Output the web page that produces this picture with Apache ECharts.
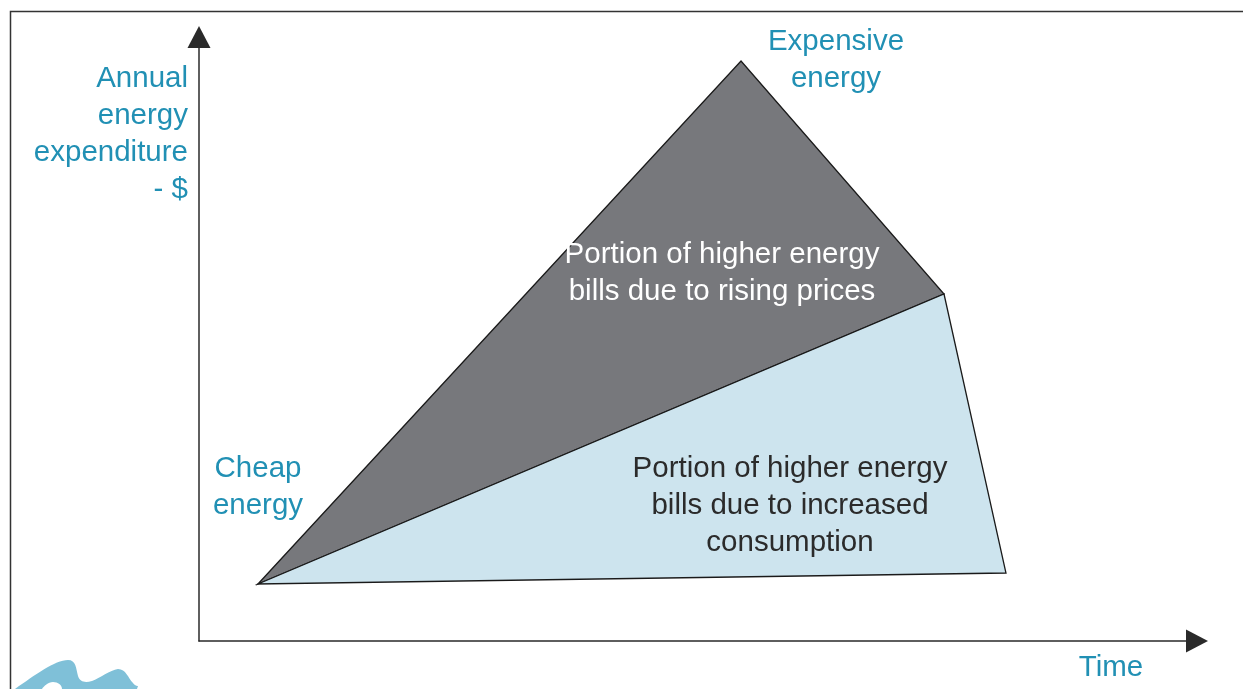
<!DOCTYPE html>
<html>
<head>
<meta charset="utf-8">
<script src="https://cdn.jsdelivr.net/npm/echarts@6/dist/echarts.min.js"></script>
<style>
html,body{margin:0;padding:0;background:#fff;}
#chart{width:1243px;height:689px;}
</style>
</head>
<body>
<div id="chart"></div>
<script>
// Data (axis units 0..100, time vs annual expenditure)
const priceRegionX = [5.91, 54.31, 74.65];
const priceRegionY = [9.44, 96.03, 57.45];
const consumptionRegionX = [5.91, 74.65, 80.86];
const consumptionRegionY = [9.44, 57.45, 11.26];

const yAxisTitle = ['Annual', 'energy', 'expenditure', '- $'];
const xAxisTitle = 'Time';
const topLabel = ['Expensive', 'energy'];
const startLabel = ['Cheap', 'energy'];
const priceLabel = ['Portion of higher energy', 'bills due to rising prices'];
const consumptionLabel = ['Portion of higher energy', 'bills due to increased', 'consumption'];

const TEAL = '#2190b4';
const FONT = '"Liberation Sans", Arial, sans-serif';

function polygonSeries(xs, ys, fill) {
  return {
    type: 'custom',
    coordinateSystem: 'cartesian2d',
    data: xs.map((x, i) => [x, ys[i]]),
    silent: true,
    renderItem: function (params, api) {
      if (params.dataIndex !== 0) return null;
      const pts = xs.map((x, i) => api.coord([x, ys[i]]));
      return {
        type: 'polygon',
        shape: { points: pts },
        style: { fill: fill, stroke: '#1a1a1a', lineWidth: 1.3, lineJoin: 'miter' }
      };
    }
  };
}

const waveSvg = '<svg xmlns="http://www.w3.org/2000/svg" width="130" height="30" viewBox="10 660 130 30">' +
  '<path fill="#7fc0d8" d="M15,689 C35,675 55,660 68,660 C76,660 76,668 78,676 C80,682 85,683 92,681 C100,678 110,670 118,669 C126,669 128,678 133,683 C135,686 138,686 138,686 L137,689 L62,689 C62,685 58,682 53,682 C48,682 44,686 42,689 Z"/></svg>';

const chart = echarts.init(document.getElementById('chart'), null, { renderer: 'canvas' });
const axisLine = {
  show: true,
  symbol: ['none', 'triangle'],
  symbolSize: [23, 22],
  lineStyle: { color: '#2a2a2a', width: 1.5 }
};
function txt(lines, x, y, align, color) {
  return { type: 'text', x: x, y: y, silent: true, z: 100,
    style: { text: lines.join('\n'), fill: color, font: '29.5px ' + FONT, align: align, lineHeight: 37 } };
}
chart.setOption({
  animation: false,
  backgroundColor: '#fff',
  grid: { left: 199, right: 46, top: 37, bottom: 48, containLabel: false },
  xAxis: {
    type: 'value', min: 0, max: 100,
    axisLine: axisLine,
    axisTick: { show: false }, axisLabel: { show: false }, splitLine: { show: false }
  },
  yAxis: {
    type: 'value', min: 0, max: 100,
    axisLine: axisLine,
    axisTick: { show: false }, axisLabel: { show: false }, splitLine: { show: false }
  },
  series: [
    polygonSeries(priceRegionX, priceRegionY, '#77787c'),
    polygonSeries(consumptionRegionX, consumptionRegionY, '#cde4ee')
  ],
  graphic: [
    {
      type: 'rect', silent: true, z: -1,
      shape: { x: 10.5, y: 11.5, width: 1400, height: 800 },
      style: { fill: 'none', stroke: '#333', lineWidth: 1.5 }
    },
    {
      type: 'image', silent: true, x: 10, y: 660,
      style: { image: 'data:image/svg+xml;charset=utf-8,' + encodeURIComponent(waveSvg), width: 130, height: 30 }
    },
    txt(yAxisTitle, 188, 60, 'right', TEAL),
    txt(topLabel, 836, 23, 'center', TEAL),
    txt(startLabel, 258, 450, 'center', TEAL),
    txt(priceLabel, 722, 236, 'center', '#ffffff'),
    txt(consumptionLabel, 790, 450, 'center', '#2b2b2b'),
    txt([xAxisTitle], 1111, 649, 'center', TEAL)
  ]
});
</script>
</body>
</html>
